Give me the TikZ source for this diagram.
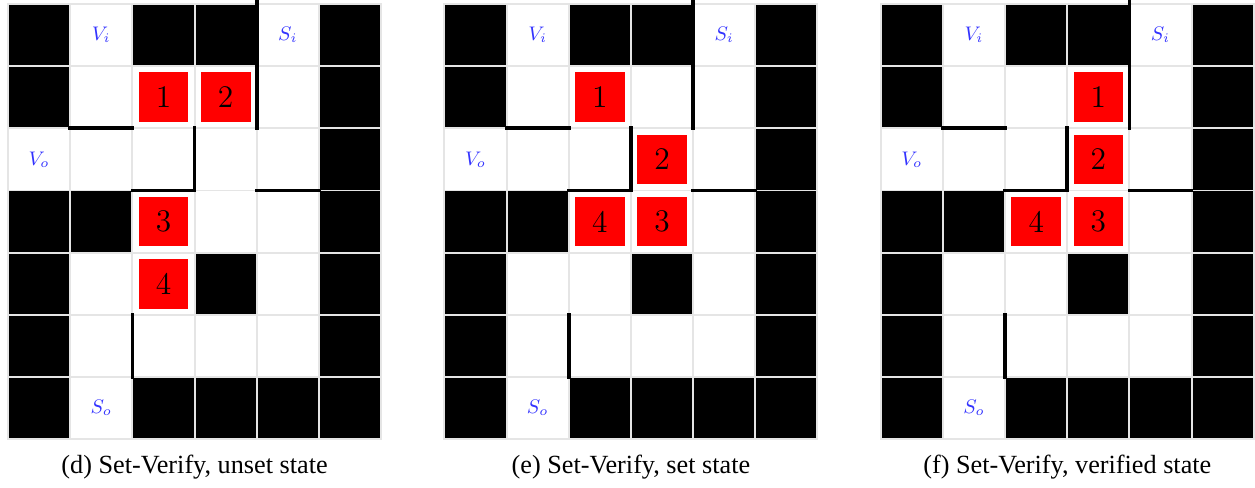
\documentclass[tikz,border=0pt]{standalone}
\usepackage{fontspec}
\newfontfamily\capfont{Liberation Serif}
\usepackage{tikz}
\usetikzlibrary{positioning}

\begin{document}
\begin{tikzpicture}[
        scale=1.0,
        wallcell/.style={fill=black},
        gridline/.style={draw=black!10, line width=0.9pt},
        wall/.style={line width=1.7pt, line cap=rect},
        token/.style={fill=red, minimum size=0.8cm, inner sep=0pt, font=\Large},
        portlabel/.style={text=blue!80, font=\small},
        caption/.style={font=\capfont\fontsize{12}{14}\selectfont, anchor=base}
    ]
        \useasboundingbox (-0.13,-0.77) rectangle (20.06,7.065);

        % the same maze in all three panels
        \foreach \px/\id/\cap in {0/d/{(d) Set-Verify, unset state},
                                  7.02/e/{(e) Set-Verify, set state},
                                  14.04/f/{(f) Set-Verify, verified state}} {
            \begin{scope}[xshift=\px cm]
                \fill[white] (0,0) rectangle (6,7);
                \foreach \c/\r in {0/6,2/6,3/6,5/6, 0/5,5/5, 5/4, 0/3,1/3,5/3,
                                   0/2,3/2,5/2, 0/1,5/1, 0/0,2/0,3/0,4/0,5/0}
                    \fill[wallcell] (\c,\r) rectangle ++(1,1);
                \draw[gridline] (0,0) grid (6,7);
                \draw[gridline] (0,0) rectangle (6,7);

                \node[portlabel] (vi-\id) at (1.5,6.5) {$V_i$};
                \node[portlabel] (si-\id) at (4.5,6.5) {$S_i$};
                \node[portlabel] (vo-\id) at (0.5,4.5) {$V_o$};
                \node[portlabel] (so-\id) at (1.5,0.5) {$S_o$};

                \draw[wall] (4,7.03) -- (4,5);
                \draw[wall] (1,5) -- (2,5);
                \draw[wall] (3,5) -- (3,4) -- (2,4);
                \draw[wall] (4,4) -- (5,4);
                \draw[wall] (2,2) -- (2,1);

                \node[caption] (cap-\id) at (3,-0.56) {\cap};
            \end{scope}
        }

        % (d) unset state
        \begin{scope}
            \node[token] (d1) at (2.5,5.5) {1};
            \node[token] (d2) at (3.5,5.5) {2};
            \node[token] (d3) at (2.5,3.5) {3};
            \node[token] (d4) at (2.5,2.5) {4};
        \end{scope}

        % (e) set state
        \begin{scope}[xshift=7.02cm]
            \node[token] (e1) at (2.5,5.5) {1};
            \node[token] (e2) at (3.5,4.5) {2};
            \node[token] (e3) at (3.5,3.5) {3};
            \node[token] (e4) at (2.5,3.5) {4};
        \end{scope}

        % (f) verified state
        \begin{scope}[xshift=14.04cm]
            \node[token] (f1) at (3.5,5.5) {1};
            \node[token] (f2) at (3.5,4.5) {2};
            \node[token] (f3) at (3.5,3.5) {3};
            \node[token] (f4) at (2.5,3.5) {4};
        \end{scope}
    \end{tikzpicture}
\end{document}
